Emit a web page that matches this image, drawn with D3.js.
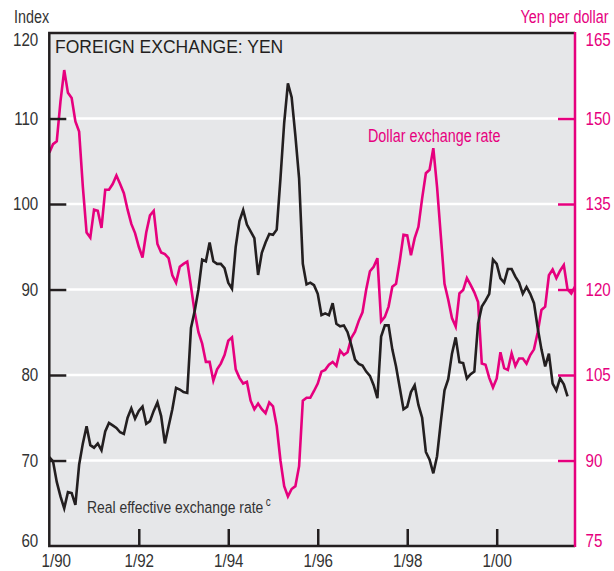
<!DOCTYPE html>
<html lang="en">
<head>
    <meta charset="UTF-8">
    <title>Foreign Exchange: Yen</title>
    <style>
        body { margin: 0; background: #fff; }
        svg { display: block; }
        text { font-family: "Liberation Sans", Arial, Helvetica, sans-serif; }
    </style>
</head>
<body>
<div id="chart"></div>

<script src="https://d3js.org/d3.v7.min.js"></script>
<script>
// monthly data, starting January 1990
const startYear = 1990;

// yen per dollar (right axis), Jan 1990 - Oct 2001
const yenPerDollar = [
    144, 145.5, 146, 153, 158.5, 154.5, 153.6, 149.5, 147.7, 138, 130, 129.1,
    134, 133.8, 130.8, 137.5, 137.5, 138.5, 140, 138.5, 136.9, 134, 131.5, 129.9,
    127.5, 125.6, 130, 133, 133.8, 128, 126.5, 126.2, 125.5, 122.5, 121.2, 124,
    124.5, 124.9, 120.5, 116, 112.5, 110.5, 107.3, 107.3, 104, 106, 107, 108.5,
    111, 111.6, 106, 104.5, 103.5, 103.8, 100.5, 99, 100, 99, 98.3, 100.2,
    99.5, 96, 90, 85.5, 83.7, 85, 85.5, 89, 100.5, 101, 101, 102.2,
    103.5, 105.6, 105.9, 106.8, 107.3, 106.6, 109.3, 108.5, 109, 111.5, 112.6, 114.5,
    116, 120, 123.2, 124, 125.5, 114.4, 115.2, 117, 120.5, 121, 125, 129.6,
    129.5, 126, 129, 131, 136, 140.4, 141, 144.8, 138, 129.5, 121, 118.2,
    115, 113.5, 119.3, 119.9, 122, 120.8, 119.5, 117.8, 107, 106.8, 104.5, 102.8,
    104.4, 109, 106.2, 105.9, 108.8, 106.6, 107.9, 107.9, 107, 108.5, 109.5, 112.5,
    116.4, 117, 122.5, 123.5, 122, 123.3, 124.3, 120, 119.3, 120.5
];

// real effective exchange rate index (left axis), Jan 1990 - Aug 2001
const realEffective = [
    70.4, 69.9, 67.5, 65.8, 64.4, 66.3, 66.2, 64.8, 69.5, 72, 74, 71.8,
    71.5, 72, 71.2, 73.4, 74.4, 74.1, 73.8, 73.3, 73.1, 75, 76.1, 74.9,
    75.8, 76.3, 74.3, 74.6, 75.8, 76.8, 75.2, 72, 74, 76, 78.5, 78.3,
    78, 77.9, 85.5, 87.5, 90, 93.5, 93.3, 95.5, 93.3, 93, 93, 92.5,
    90.8, 90.1, 95, 98, 99.3, 97.6, 96.8, 96, 91.7, 94.3, 95.5, 96.5,
    96.4, 97, 103, 109.5, 114.1, 112.5, 108, 103, 93, 90.6, 90.8, 90.5,
    89.5, 87, 87.2, 87, 88.4, 86, 85.7, 85.8, 85, 83.5, 81.8, 81.3,
    81.1, 80.4, 79.9, 78.8, 77.3, 84.5, 85.8, 85.8, 83, 81, 78.5, 76,
    76.3, 78, 78.8, 76.5, 75, 71, 70.1, 68.5, 70.5, 74.5, 78.2, 79.5,
    82.5, 84.4, 81.5, 81.4, 79.6, 80.1, 80.4, 86, 88, 88.7, 89.5, 93.5,
    93, 91.3, 90.8, 92.4, 92.4, 91.5, 90.8, 89.5, 90.3, 89.5, 88.4, 85.5,
    83, 81, 82.5, 79, 78.2, 79.6, 78.9, 77.5
];

const leftTicks = [60, 70, 80, 90, 100, 110, 120];
const rightTicks = [75, 90, 105, 120, 135, 150, 165];
const xTickLabels = ["1/90", "1/92", "1/94", "1/96", "1/98", "1/00"];

const width = 614, height = 571;
const plotLeft = 49.3, plotRight = 575, plotTop = 33, plotBottom = 546;
const magenta = "#e6007e", ink = "#231f20", textInk = "#333";
const squeeze = 0.82; // fake a narrow face by scaling Liberation Sans

const svg = d3.select("#chart").append("svg")
    .attr("width", width)
    .attr("height", height);

// squeeze text horizontally, keeping its anchor in place
function narrow(sel) {
    sel.each(function () {
        const t = d3.select(this);
        const xv = +t.attr("x") || 0;
        const dxv = +t.attr("dx") || 0;
        t.attr("x", xv / squeeze)
            .attr("dx", dxv / squeeze)
            .attr("transform", `scale(${squeeze},1)`);
    });
}

// end labels sit inside the frame instead of centred on it
function edgeDy(lo, hi) {
    return d => d === hi ? "0.66em" : d === lo ? "0.04em" : "0.32em";
}

const lastMonth = yenPerDollar.length - 1;
const x = d3.scaleLinear().domain([0, lastMonth]).range([plotLeft, plotRight]);
const yLeft = d3.scaleLinear().domain([60, 120]).range([plotBottom, plotTop]);
const yRight = d3.scaleLinear().domain([75, 165]).range([plotBottom, plotTop]);

// plot background
svg.append("rect")
    .attr("x", plotLeft).attr("y", plotTop)
    .attr("width", plotRight - plotLeft).attr("height", plotBottom - plotTop)
    .attr("fill", "#e6e7e9");

// white gridlines
svg.append("g").selectAll("line")
    .data(leftTicks.slice(1, -1))
    .enter().append("line")
    .attr("x1", plotLeft).attr("x2", plotRight)
    .attr("y1", d => yLeft(d)).attr("y2", d => yLeft(d))
    .attr("stroke", "#fff")
    .attr("stroke-width", 2.5);

// lines
const yenLine = d3.line()
    .x((d, i) => x(i))
    .y(d => yRight(d));
const realLine = d3.line()
    .x((d, i) => x(i))
    .y(d => yLeft(d));

svg.append("path")
    .datum(yenPerDollar)
    .attr("d", yenLine)
    .attr("fill", "none")
    .attr("stroke", magenta)
    .attr("stroke-width", 2.6)
    .attr("stroke-linejoin", "miter");

svg.append("path")
    .datum(realEffective)
    .attr("d", realLine)
    .attr("fill", "none")
    .attr("stroke", ink)
    .attr("stroke-width", 2.6)
    .attr("stroke-linejoin", "miter");

// left axis (inner ticks)
const leftAxis = d3.axisLeft(yLeft)
    .tickValues(leftTicks)
    .tickSizeInner(-17)
    .tickSizeOuter(0)
    .tickPadding(11);
const gL = svg.append("g")
    .attr("transform", `translate(${plotLeft},0)`)
    .call(leftAxis);
gL.select(".domain").remove();
gL.selectAll(".tick line")
    .attr("stroke", ink).attr("stroke-width", 2.5)
    .attr("display", d => (d === 60 || d === 120) ? "none" : null);
gL.selectAll(".tick text")
    .attr("fill", textInk).attr("font-size", 18.5)
    .attr("font-family", null)
    .attr("dy", edgeDy(60, 120))
    .call(narrow);

// right axis (inner ticks)
const rightAxis = d3.axisRight(yRight)
    .tickValues(rightTicks)
    .tickSizeInner(-17)
    .tickSizeOuter(0)
    .tickPadding(10.5);
const gR = svg.append("g")
    .attr("transform", `translate(${plotRight},0)`)
    .call(rightAxis);
gR.select(".domain").remove();
gR.selectAll(".tick line")
    .attr("stroke", magenta).attr("stroke-width", 2.5)
    .attr("display", d => (d === 75 || d === 165) ? "none" : null);
gR.selectAll(".tick text")
    .attr("fill", magenta).attr("font-size", 18.5)
    .attr("font-family", null)
    .attr("dy", edgeDy(75, 165))
    .call(narrow);

// bottom axis: a tick every two years
const bottomAxis = d3.axisBottom(x)
    .tickValues(xTickLabels.map((d, i) => i * 24))
    .tickFormat((d, i) => xTickLabels[i])
    .tickSizeInner(-17)
    .tickSizeOuter(0)
    .tickPadding(8);
const gB = svg.append("g")
    .attr("transform", `translate(0,${plotBottom})`)
    .call(bottomAxis);
gB.select(".domain").remove();
gB.selectAll(".tick line")
    .attr("stroke", ink).attr("stroke-width", 2.5)
    .attr("display", d => d === 0 ? "none" : null);
gB.selectAll(".tick text")
    .attr("fill", textInk).attr("font-size", 18.5)
    .attr("font-family", null)
    .attr("dx", d => d === 0 ? 6.5 : 0)
    .call(narrow);

// frame: black left, top, bottom; magenta right
svg.append("path")
    .attr("d", `M${plotRight},${plotTop}H${plotLeft}V${plotBottom}H${plotRight}`)
    .attr("fill", "none")
    .attr("stroke", ink)
    .attr("stroke-width", 2.5);
svg.append("line")
    .attr("x1", plotRight).attr("x2", plotRight)
    .attr("y1", plotTop - 1).attr("y2", plotBottom + 1)
    .attr("stroke", magenta)
    .attr("stroke-width", 2.5);

// labels
svg.append("text")
    .attr("x", 14).attr("y", 23.5)
    .attr("font-size", 17.5)
    .attr("fill", textInk)
    .text("Index")
    .call(narrow);

svg.append("text")
    .attr("x", 608.5).attr("y", 23)
    .attr("text-anchor", "end")
    .attr("font-size", 17.5)
    .attr("fill", magenta)
    .text("Yen per dollar")
    .call(narrow);

svg.append("text")
    .attr("x", 55).attr("y", 53)
    .attr("font-size", 17.5)
    .attr("fill", ink)
    .text("FOREIGN EXCHANGE: YEN");

svg.append("text")
    .attr("x", 368).attr("y", 142)
    .attr("font-size", 17.5)
    .attr("fill", magenta)
    .text("Dollar exchange rate")
    .call(narrow);

const realLabel = svg.append("text")
    .attr("x", 87).attr("y", 513)
    .attr("font-size", 17)
    .attr("fill", textInk)
    .text("Real effective exchange rate")
    .call(narrow);
realLabel.append("tspan")
    .attr("dx", 3).attr("dy", -7)
    .attr("font-size", 12)
    .text("c");
</script>
</body>
</html>
